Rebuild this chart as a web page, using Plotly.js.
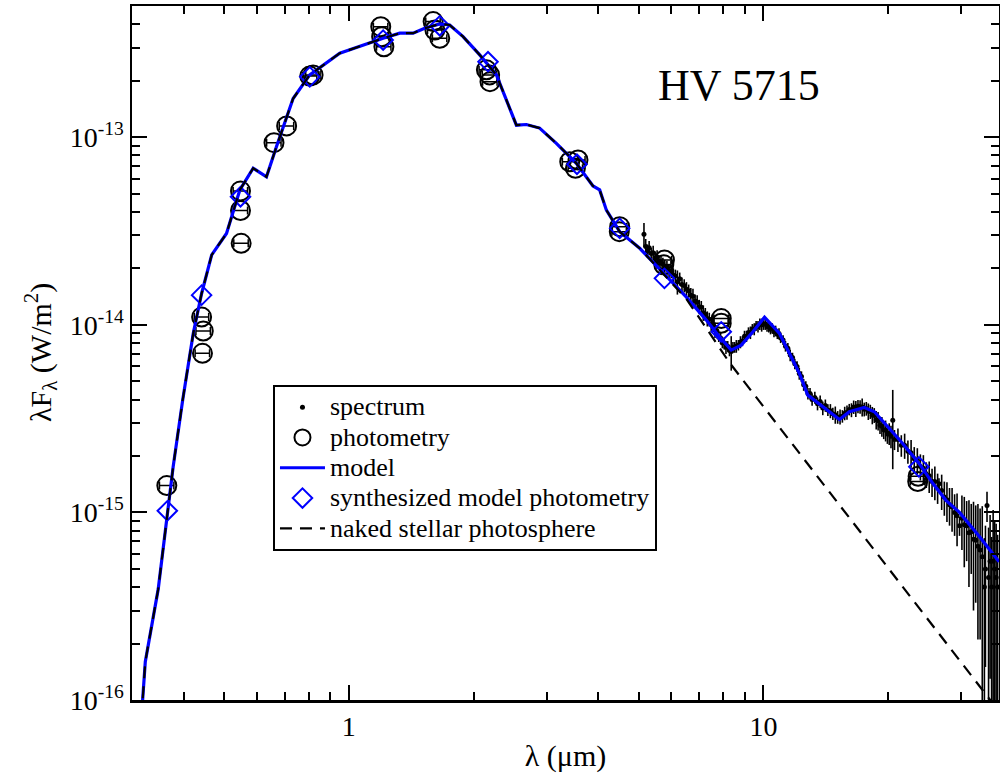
<!DOCTYPE html>
<html>
<head>
<meta charset="utf-8">
<script src="https://cdn.plot.ly/plotly-3.0.1.min.js"></script>
<style>html,body{margin:0;padding:0;background:#fff;}</style>
</head>
<body>
<div id="chart" style="width:1000px;height:773px;"></div>
<script>
// ---- model SED (blue line) ----
const modelWave = [0.316,0.323,0.347,0.366,0.377,0.3975,0.4215,0.4416,0.467,0.507,0.546,0.588,0.633,0.669,0.701,0.734,0.805,0.867,0.951,1.21,1.233,1.327,1.429,1.524,1.657,1.751,1.886,2.069,2.27,2.536,2.68,2.885,3.166,3.537,3.88,4.027,4.18,4.50,5.03,5.83,6.51,7.28,7.83,8.36,8.84,9.43,10.06,10.93,11.55,12.21,12.79,13.9,15.25,16.11,17.51,18.51,20.12,21.66,23.76,25.6,27.55,29.7,33.2,37.0];
const modelFlux = [8.0e-17,1.6e-16,3.9e-16,1.02e-15,1.75e-15,3.97e-15,9.0e-15,1.47e-14,2.36e-14,3.07e-14,5.24e-14,6.84e-14,6.16e-14,8.9e-14,1.19e-13,1.61e-13,2.15e-13,2.43e-13,2.81e-13,3.37e-13,3.41e-13,3.59e-13,3.59e-13,3.81e-13,4.02e-13,3.97e-13,3.44e-13,2.75e-13,2.15e-13,1.16e-13,1.17e-13,1.12e-13,9.29e-14,7.27e-14,5.5e-14,5.24e-14,4.09e-14,3.14e-14,2.56e-14,1.81e-14,1.41e-14,1.06e-14,8.65e-15,7.34e-15,7.8e-15,9.18e-15,1.10e-14,9.0e-15,7.05e-15,5.51e-15,4.22e-15,3.66e-15,3.13e-15,3.44e-15,3.63e-15,3.44e-15,2.8e-15,2.33e-15,1.82e-15,1.43e-15,1.16e-15,1.0e-15,7.41e-16,5.46e-16];

// ---- naked stellar photosphere (black dashed) ----
const photWave = [0.316,0.323,0.347,0.366,0.377,0.3975,0.4215,0.4416,0.467,0.507,0.546,0.588,0.633,0.669,0.701,0.734,0.805,0.867,0.951,1.21,1.233,1.327,1.429,1.524,1.657,1.751,1.886,2.069,2.27,2.536,2.68,2.885,3.166,3.537,3.88,4.027,4.18,4.50,5.03,5.83,6.51,7.28,8.28,8.92,12.0,16.0,20.0,25.0,30.0,34.0,38.0];
const photFlux = [8.0e-17,1.6e-16,3.9e-16,1.02e-15,1.75e-15,3.97e-15,9.0e-15,1.47e-14,2.36e-14,3.07e-14,5.24e-14,6.84e-14,6.16e-14,8.9e-14,1.19e-13,1.61e-13,2.15e-13,2.43e-13,2.81e-13,3.37e-13,3.41e-13,3.59e-13,3.59e-13,3.81e-13,4.02e-13,3.97e-13,3.44e-13,2.75e-13,2.15e-13,1.16e-13,1.17e-13,1.12e-13,9.29e-14,7.27e-14,5.5e-14,5.24e-14,4.09e-14,3.14e-14,2.56e-14,1.81e-14,1.38e-14,9.6e-15,6.29e-15,5.08e-15,2.18e-15,9.55e-16,5.05e-16,2.67e-16,1.58e-16,1.11e-16,8.05e-17];

// ---- photometry (open circles) ----
const photoWave = [0.364,0.4416,0.4457,0.4437,0.548,0.548,0.550,0.660,0.708,0.805,0.820,1.194,1.200,1.215,1.597,1.613,1.657,2.147,2.186,2.190,3.41,3.57,3.52,4.50,4.49,5.77,5.75,7.91,7.91,23.55,23.6];
const photoFlux = [1.39e-15,1.10e-14,9.27e-15,7.05e-15,5.18e-14,4.07e-14,2.72e-14,9.36e-14,1.15e-13,2.12e-13,2.15e-13,3.89e-13,3.44e-13,3.04e-13,4.14e-13,3.73e-13,3.37e-13,2.29e-13,2.15e-13,1.98e-13,7.41e-14,7.57e-14,6.84e-14,3.34e-14,3.14e-14,2.22e-14,2.09e-14,1.08e-14,1.02e-14,1.46e-15,1.56e-15];

// ---- synthesized model photometry (blue diamonds) ----
const synWave = [0.365,0.4416,0.548,0.805,1.21,1.657,2.166,3.55,4.50,5.77,7.91,23.7];
const synFlux = [1.02e-15,1.44e-14,4.82e-14,2.10e-13,3.30e-13,3.93e-13,2.53e-13,7.18e-14,3.27e-14,1.77e-14,9.18e-15,1.75e-15];

// ---- spectrum (dots with error bars) ----
const specWave = [5.15,5.20,5.25,5.30,5.36,5.42,5.48,5.54,5.60,5.66,5.72,5.78,5.85,5.92,5.99,6.06,6.13,6.20,6.28,6.36,6.44,6.52,6.60,6.68,6.76,6.84,6.92,7.00,7.08,7.16,7.24,7.32,7.40,7.48,7.56,7.64,
7.72,7.80,7.88,7.96,8.04,8.12,8.20,8.28,8.36,8.44,8.52,8.60,8.70,8.80,8.90,9.00,9.10,9.20,9.30,9.40,9.50,9.60,9.70,9.80,9.90,10.00,10.10,10.20,10.30,10.40,10.50,10.60,10.70,10.80,10.90,11.00,11.15,11.30,11.45,11.60,11.75,11.90,12.05,12.20,12.35,12.50,12.65,12.80,12.95,13.10,13.30,13.50,13.70,13.90,
14.1,14.3,14.5,14.7,14.9,15.1,15.3,15.5,15.7,15.9,16.1,16.3,16.5,16.7,16.9,17.1,17.3,17.5,17.7,17.9,18.1,18.3,18.5,18.7,18.9,19.1,19.3,19.5,19.7,19.9,20.1,20.5,
20.3,20.7,21.1,21.5,21.9,22.3,22.7,23.1,23.5,23.9,24.3,24.7,25.1,25.5,25.9,26.3,26.5,26.9,27.3,27.7,28.1,28.5,28.9,29.3,29.7,30.1,30.5,30.9,31.3,31.7,32.1,32.5,32.9,33.3,33.7,34.1,34.3,34.6,34.9,35.2,35.5,35.8,36.1,36.4,36.7];
const specFlux = [3.04e-14,2.62e-14,2.48e-14,2.58e-14,2.40e-14,2.42e-14,2.28e-14,2.30e-14,2.18e-14,2.16e-14,2.12e-14,2.04e-14,2.05e-14,1.94e-14,1.92e-14,1.84e-14,1.82e-14,1.70e-14,1.76e-14,1.64e-14,1.62e-14,1.55e-14,1.52e-14,1.44e-14,1.42e-14,1.34e-14,1.32e-14,1.25e-14,1.24e-14,1.16e-14,1.14e-14,1.08e-14,1.07e-14,1.01e-14,1.00e-14,9.4e-15,
9.3e-15,8.6e-15,8.5e-15,8.0e-15,8.0e-15,7.6e-15,7.7e-15,7.3e-15,7.2e-15,7.6e-15,7.6e-15,7.7e-15,7.8e-15,8.1e-15,8.2e-15,8.7e-15,8.7e-15,9.1e-15,9.1e-15,9.5e-15,9.5e-15,9.9e-15,9.8e-15,1.01e-14,1.00e-14,1.01e-14,1.01e-14,9.8e-15,9.8e-15,9.5e-15,9.6e-15,9.2e-15,9.3e-15,8.9e-15,9.0e-15,8.5e-15,8.3e-15,7.7e-15,7.5e-15,6.9e-15,6.7e-15,6.2e-15,6.0e-15,5.5e-15,5.3e-15,4.8e-15,4.7e-15,4.3e-15,4.3e-15,4.0e-15,4.1e-15,3.8e-15,3.9e-15,3.6e-15,
3.72e-15,3.52e-15,3.48e-15,3.36e-15,3.32e-15,3.22e-15,3.24e-15,3.26e-15,3.38e-15,3.42e-15,3.54e-15,3.52e-15,3.65e-15,3.58e-15,3.68e-15,3.66e-15,3.65e-15,3.55e-15,3.58e-15,3.46e-15,3.45e-15,3.30e-15,3.30e-15,3.12e-15,3.08e-15,2.92e-15,2.88e-15,2.76e-15,2.74e-15,2.62e-15,2.64e-15,3.10e-15,
2.55e-15,2.45e-15,2.45e-15,2.28e-15,2.28e-15,2.12e-15,2.08e-15,1.93e-15,1.90e-15,1.76e-15,1.72e-15,1.60e-15,1.57e-15,1.46e-15,1.46e-15,1.36e-15,1.42e-15,1.31e-15,1.21e-15,1.17e-15,1.10e-15,1.07e-15,1.00e-15,9.6e-16,8.5e-16,9.3e-16,8.6e-16,8.5e-16,7.8e-16,7.9e-16,7.2e-16,7.1e-16,6.6e-16,6.3e-16,5.8e-16,4.0e-16,5.0e-16,1.09e-15,4.5e-16,5.5e-16,4.0e-16,5.5e-16,5.0e-16,4.5e-16,4.0e-16];
const specErr = [4.5e-15,2.5e-15,2.0e-15,2.2e-15,1.8e-15,2.2e-15,1.8e-15,2.0e-15,1.6e-15,2.0e-15,1.6e-15,1.8e-15,1.5e-15,1.8e-15,1.5e-15,1.6e-15,1.5e-15,2.5e-15,1.4e-15,1.5e-15,1.3e-15,1.4e-15,1.2e-15,1.3e-15,1.4e-15,1.1e-15,1.2e-15,1.1e-15,1.0e-15,1.1e-15,9e-16,1.0e-15,9e-16,9e-16,8e-16,9e-16,
6e-16,5e-16,6e-16,5e-16,6e-16,6e-16,5e-16,5e-16,1.5e-15,5e-16,5e-16,6e-16,5e-16,6e-16,5e-16,6e-16,6e-16,6e-16,7e-16,6e-16,7e-16,6e-16,7e-16,7e-16,8e-16,7e-16,7e-16,6e-16,7e-16,6e-16,6e-16,6e-16,6e-16,5e-16,6e-16,5e-16,5e-16,5e-16,5e-16,5e-16,4e-16,4e-16,4e-16,4e-16,3.5e-16,3.5e-16,3e-16,3e-16,3e-16,3e-16,3e-16,3e-16,3e-16,3e-16,
2.8e-16,2.5e-16,3.0e-16,2.5e-16,3.5e-16,2.5e-16,3.0e-16,2.5e-16,2.8e-16,3.0e-16,2.5e-16,3.0e-16,3.0e-16,3.5e-16,3.0e-16,3.0e-16,4.0e-16,3.0e-16,3.0e-16,3.5e-16,3.0e-16,3.5e-16,3.0e-16,3.5e-16,3.5e-16,3.0e-16,3.5e-16,3.0e-16,3.5e-16,3.0e-16,3.5e-16,1.4e-15,
3.5e-16,3.0e-16,3.5e-16,3.0e-16,3.5e-16,3.0e-16,3.5e-16,3.0e-16,3.0e-16,2.8e-16,3.0e-16,2.5e-16,3.0e-16,2.5e-16,3.0e-16,2.5e-16,1.0e-16,2.8e-16,2.5e-16,2.8e-16,2.5e-16,2.8e-16,2.5e-16,3.0e-16,1.0e-16,3.0e-16,3.5e-16,3.0e-16,3.8e-16,3.2e-16,4.2e-16,3.8e-16,4.5e-16,4.2e-16,5.0e-16,3.3e-16,3.5e-16,2.0e-16,3.8e-16,4.2e-16,3.4e-16,4.8e-16,4.0e-16,4.2e-16,3.6e-16];

// ---- tick labels ----
const yTickVals = [1e-16, 1e-15, 1e-14, 1e-13];
const yTickText = ['10<sup>-16</sup>', '10<sup>-15</sup>', '10<sup>-14</sup>', '10<sup>-13</sup>'];
const xTickVals = [1, 10];
const xTickText = ['1', '10'];

// ---- legend labels ----
const seriesNames = ['spectrum', 'photometry', 'model', 'synthesized model photometry', 'naked stellar photosphere'];

const FONT = "'Liberation Serif', 'Times New Roman', serif";
const lg = s => '<span style="font-size:26px">' + s + '</span>';

const traces = [
  {name:lg(seriesNames[0]), x:specWave, y:specFlux, type:'scatter', mode:'markers',
   marker:{color:'black', size:5},
   error_y:{type:'data', array:specErr, visible:true, color:'black', thickness:1.6, width:0}},
  {name:lg(seriesNames[1]), x:photoWave, y:photoFlux, type:'scatter', mode:'markers',
   marker:{symbol:'circle-open', color:'black', size:19, line:{width:2, color:'black'}},
   error_x:{type:'percent', value:4, visible:true, color:'black', thickness:1.5, width:4}},
  {name:lg(seriesNames[2]), x:modelWave, y:modelFlux, type:'scatter', mode:'lines',
   line:{color:'#0000ff', width:3.2}},
  {name:lg(seriesNames[3]), x:synWave, y:synFlux, type:'scatter', mode:'markers',
   marker:{symbol:'diamond-open', color:'#0000ff', size:15, line:{width:2, color:'#0000ff'}}},
  {name:lg(seriesNames[4]), x:photWave, y:photFlux, type:'scatter', mode:'lines',
   line:{color:'black', width:2.2, dash:'12px,8px'}}
];

const axisCommon = {
  type:'log', showline:true, linewidth:2.5, linecolor:'black', mirror:'ticks',
  ticks:'inside', ticklen:15, tickwidth:2, tickcolor:'black', tickmode:'array',
  showgrid:false, zeroline:false,
  tickfont:{family:FONT, size:28, color:'black'},
  minor:{ticks:'inside', ticklen:8, tickwidth:2, tickcolor:'black', tickmode:'linear', dtick:'D1', showgrid:false}
};

const layout = {
  width:1000, height:773,
  margin:{l:132, r:1, t:6, b:73, pad:0},
  paper_bgcolor:'white', plot_bgcolor:'white',
  font:{family:FONT, color:'black', size:24},
  showlegend:true,
  legend:{x:0.1626, y:0.4539, xanchor:'left', yanchor:'top', bordercolor:'black', borderwidth:2,
          bgcolor:'white', font:{family:FONT, size:21, color:'black'}, traceorder:'normal', itemwidth:45},
  xaxis:Object.assign({}, axisCommon, {range:[Math.log10(0.3), 1.568],
          tickvals:xTickVals, ticktext:xTickText,
          title:{text:'λ (μm)', font:{family:FONT, size:30}, standoff:8}}),
  yaxis:Object.assign({}, axisCommon, {range:[-16, -12.3],
          tickvals:yTickVals, ticktext:yTickText}),
  annotations:[
    {text:'HV 5715', xref:'paper', yref:'paper', x:0.700, y:0.885,
     xanchor:'center', yanchor:'middle', showarrow:false,
     font:{family:FONT, size:44, color:'black'}},
    {text:'λF<sub>λ</sub> (W/m<sup>2</sup>)', xref:'paper', yref:'paper', x:-0.106, y:0.5,
     xanchor:'center', yanchor:'middle', textangle:-90, showarrow:false,
     font:{family:FONT, size:30, color:'black'}}
  ]
};

Plotly.newPlot('chart', traces, layout, {displayModeBar:false, staticPlot:true});
</script>
</body>
</html>
